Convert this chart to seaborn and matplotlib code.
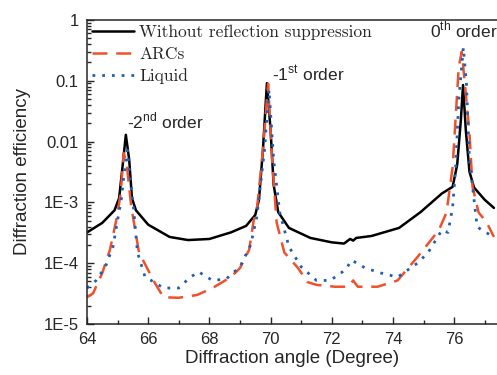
import numpy as np
import pandas as pd
import matplotlib as mpl
import matplotlib.pyplot as plt
import seaborn as sns
from matplotlib.ticker import FixedLocator, FixedFormatter, LogLocator, MultipleLocator, NullFormatter

# 数据
x_none = [64.00, 64.50, 64.90, 65.05, 65.15, 65.27, 65.38, 65.47, 65.60, 66.00, 66.70, 67.30,
          68.00, 68.70, 69.20, 69.50, 69.62, 69.75, 69.88, 70.00, 70.10, 70.25, 70.60, 71.30,
          72.00, 72.40, 72.60, 72.70, 72.80, 73.30, 74.20, 74.90, 75.60, 75.95, 76.10, 76.22,
          76.29, 76.38, 76.50, 76.65, 77.00, 77.30]
y_none = [3.2e-4, 4.6e-4, 7.4e-4, 1.17e-3, 3.4e-3, 0.0129, 5.0e-3, 1.17e-3, 7.4e-4, 4.3e-4, 2.7e-4, 2.4e-4,
          2.5e-4, 3.2e-4, 4.1e-4, 6.2e-4, 1.1e-3, 7.2e-3, 0.091, 0.0155, 1.95e-3, 6.9e-4, 3.8e-4, 2.6e-4,
          2.2e-4, 2.1e-4, 2.5e-4, 2.35e-4, 2.6e-4, 2.8e-4, 3.8e-4, 6.9e-4, 1.4e-3, 1.8e-3, 4.2e-3, 0.023,
          0.085, 0.0155, 3.2e-3, 1.75e-3, 1.1e-3, 8.1e-4]

x_arc = [64.00, 64.20, 64.50, 64.75, 64.98, 65.10, 65.20, 65.30, 65.45, 65.70, 66.20, 66.50,
         67.00, 67.60, 68.10, 68.70, 69.00, 69.30, 69.45, 69.55, 69.75, 69.92, 70.05, 70.20,
         70.45, 70.90, 71.20, 71.50, 72.10, 72.55, 72.70, 72.85, 73.50, 74.15, 74.80, 75.15,
         75.50, 75.75, 75.95, 76.15, 76.25, 76.40, 76.50, 76.60, 76.80, 77.05, 77.30]
y_arc = [2.75e-5, 3.2e-5, 6.9e-5, 1.66e-4, 5.75e-4, 1.4e-3, 6.5e-3, 4.2e-3, 8.3e-4, 1.5e-4, 4.9e-5, 2.75e-5,
         2.7e-5, 3.0e-5, 3.9e-5, 5.9e-5, 8.3e-5, 1.66e-4, 5.1e-4, 7.4e-4, 7.2e-3, 0.089, 5.0e-3, 4.6e-4,
         1.5e-4, 8.3e-5, 4.9e-5, 4.4e-5, 4.1e-5, 4.1e-5, 5.2e-5, 4.1e-5, 4.1e-5, 5.2e-5, 1.26e-4, 2.1e-4,
         3.5e-4, 6.8e-4, 3.8e-3, 0.17, 0.30, 0.048, 0.0138, 1.8e-3, 6.8e-4, 4.8e-4, 2.7e-4]

x_liq = [64.00, 64.30, 64.60, 64.85, 65.00, 65.12, 65.20, 65.32, 65.42, 65.52, 65.65, 65.90,
         66.10, 66.50, 67.00, 67.35, 67.65, 68.10, 68.55, 69.00, 69.35, 69.55, 69.80, 69.95,
         70.10, 70.30, 70.60, 71.00, 71.50, 71.95, 72.45, 72.65, 73.10, 73.60, 74.15, 74.80,
         75.15, 75.40, 75.60, 75.80, 75.95, 76.05, 76.15, 76.30, 76.40, 76.50, 76.65, 76.75,
         76.90, 77.30]
y_liq = [3.9e-5, 5.2e-5, 8.7e-5, 1.86e-4, 5.1e-4, 1.1e-3, 2.6e-3, 7.2e-3, 2.3e-3, 8.3e-4, 1.5e-4, 5.9e-5,
         5.2e-5, 3.9e-5, 3.9e-5, 5.75e-5, 7.2e-5, 5.2e-5, 5.5e-5, 8.7e-5, 2.0e-4, 5.75e-4, 7.2e-3, 0.071,
         5.0e-3, 6.8e-4, 1.86e-4, 8.7e-5, 5.2e-5, 5.2e-5, 7.8e-5, 1.12e-4, 8.3e-5, 6.9e-5, 5.9e-5, 1.0e-4,
         1.5e-4, 2.4e-4, 3.5e-4, 3.2e-4, 8.3e-4, 3.8e-3, 0.048, 0.35, 0.091, 5.0e-3, 1.1e-3, 4.0e-4,
         3.5e-4, 2.7e-4]

y_ticks = [1e-5, 1e-4, 1e-3, 1e-2, 1e-1, 1]
y_tick_labels = ['1E-5', '1E-4', '1E-3', '0.01', '0.1', '1']

sns.set_style('ticks')
plt.rcParams['font.family'] = ['Liberation Sans', 'DejaVu Sans']
plt.rcParams['mathtext.fontset'] = 'custom'
plt.rcParams['mathtext.rm'] = 'Liberation Sans'
plt.rcParams['axes.unicode_minus'] = False

fig = plt.figure(figsize=(4.97, 3.75), dpi=100)
ax = fig.add_axes([0.175, 0.136, 0.825, 0.811])

sns.lineplot(x=x_none, y=y_none, ax=ax, color='black', lw=1.8, label='Without reflection suppression')
sns.lineplot(x=x_arc, y=y_arc, ax=ax, color='#f0502a', lw=1.8, label='ARCs')
sns.lineplot(x=x_liq, y=y_liq, ax=ax, color='#1f5fb5', lw=2.0, label='Liquid')
ax.lines[1].set_dashes([6, 3.5])
ax.lines[2].set_dashes([1, 2.5])

ax.set_yscale('log')
ax.set_xlim(64, 77.4)
ax.set_ylim(1e-5, 1)
ax.yaxis.set_major_locator(FixedLocator(y_ticks))
ax.yaxis.set_major_formatter(FixedFormatter(y_tick_labels))
ax.yaxis.set_minor_locator(LogLocator(base=10, subs=np.arange(2, 10)))
ax.yaxis.set_minor_formatter(NullFormatter())
ax.xaxis.set_major_locator(MultipleLocator(2))
ax.xaxis.set_minor_locator(MultipleLocator(1))
ax.tick_params(which='both', direction='in', labelsize=12, width=1, pad=6)
ax.tick_params(which='major', length=5)
ax.tick_params(which='minor', length=3)
ax.spines['right'].set_visible(False)
for s in ['left', 'top', 'bottom']:
    ax.spines[s].set_linewidth(1.1)

ax.set_xlabel('Diffraction angle (Degree)', fontsize=13.5, labelpad=2)
ax.set_ylabel('Diffraction efficiency', fontsize=13.5, labelpad=9)

ax.text(65.31, 0.0167, r'-2$^{\mathrm{nd}}$ order', fontsize=12.5, ha='left', va='baseline')
ax.text(70.05, 0.099, r'-1$^{\mathrm{st}}$ order', fontsize=12.5, ha='left', va='baseline')
ax.text(75.2, 0.506, r'0$^{\mathrm{th}}$ order', fontsize=12.5, ha='left', va='baseline')

leg = ax.legend(loc='upper left', frameon=False, prop={'family': 'cmr10', 'size': 12.5},
                handlelength=2.4, handletextpad=0.3, borderaxespad=0.1, labelspacing=0.35,
                borderpad=0.2)

plt.savefig('out.png', dpi=100)
